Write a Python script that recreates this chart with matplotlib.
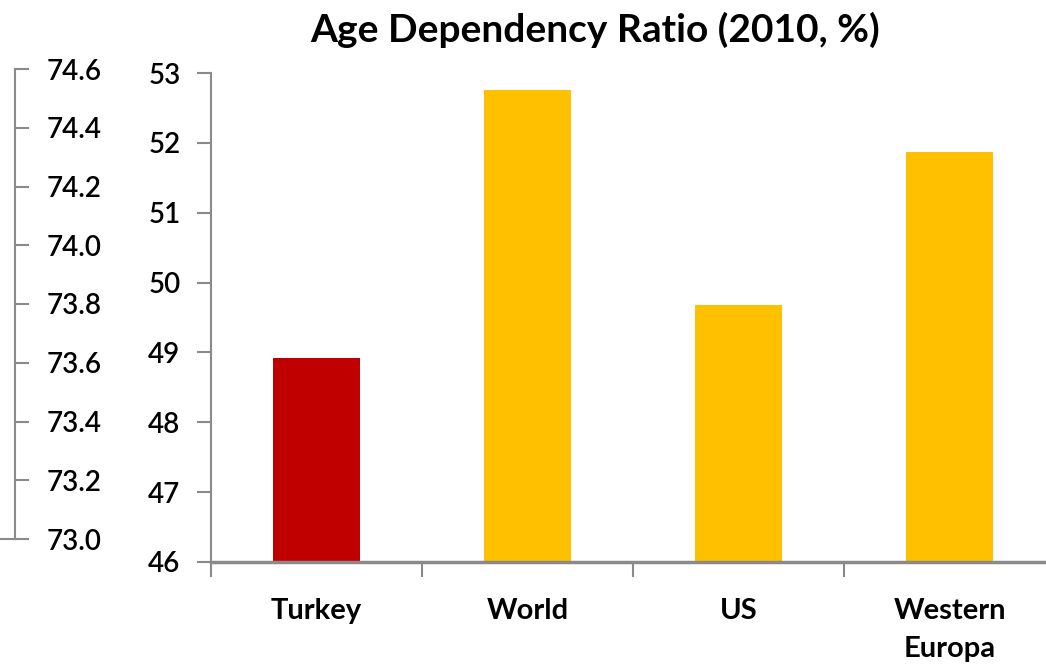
import matplotlib
matplotlib.use("Agg")
import matplotlib.pyplot as plt
import numpy as np

plt.rcParams["font.family"] = ["Lato", "DejaVu Sans"]

categories = ["Turkey", "World", "US", "Western\nEuropa"]
dependency_ratio = [48.92, 52.76, 49.68, 51.87]
bar_colors = ["#C00000", "#FFC000", "#FFC000", "#FFC000"]
outer_ticks = [73.0, 73.2, 73.4, 73.6, 73.8, 74.0, 74.2, 74.4, 74.6]
inner_ticks = [46, 47, 48, 49, 50, 51, 52, 53]

axis_gray = "#8a8a8a"
num_weight = "semibold"

W, H = 1046, 670
fig = plt.figure(figsize=(W / 100, H / 100), dpi=100)


def px_axes(left, top, right, bottom):
    return fig.add_axes([left / W, 1 - bottom / H, (right - left) / W, (bottom - top) / H])


# main bar axes (runs off the right edge of the figure)
ax = px_axes(211, 73, 1055, 562)
x = np.arange(len(categories))
ax.bar(x, dependency_ratio, width=0.41, color=bar_colors, zorder=2)
ax.set_xlim(-0.5, len(categories) - 0.5)
ax.set_ylim(46, 53)
ax.set_yticks(inner_ticks)
ax.set_yticklabels([str(t) for t in inner_ticks], fontsize=20, fontweight=num_weight)
ax.set_xticks(x)
ax.set_xticklabels(categories, fontsize=21, fontweight="bold", linespacing=1.55,
                   va="top")
ax.set_xticks(np.arange(-0.5, len(categories) + 0.5, 1), minor=True)
ax.tick_params(axis="x", which="major", length=0, pad=26)
ax.tick_params(axis="x", which="minor", length=11, width=1.5, color=axis_gray)
ax.tick_params(axis="y", length=10, width=1.5, color=axis_gray, pad=12)
for side in ["top", "right"]:
    ax.spines[side].set_visible(False)
for side in ["left", "bottom"]:
    ax.spines[side].set_color(axis_gray)
    ax.spines[side].set_linewidth(1.5)
ax.spines["bottom"].set_linewidth(2.5)

# secondary scale on the far left
ax2 = px_axes(0, 69, 15, 539)
ax2.set_xlim(0, 1)
ax2.set_ylim(73.0, 74.6)
ax2.set_xticks([])
ax2.yaxis.tick_right()
ax2.set_yticks(outer_ticks)
ax2.set_yticklabels([f"{t:.1f}" for t in outer_ticks], fontsize=20, fontweight=num_weight)
ax2.tick_params(axis="y", length=10, width=1.5, color=axis_gray, pad=13)
for side in ["top", "left"]:
    ax2.spines[side].set_visible(False)
for side in ["right", "bottom"]:
    ax2.spines[side].set_color(axis_gray)
    ax2.spines[side].set_linewidth(1.5)
ax2.patch.set_visible(False)

fig.text(595 / W, 1 - 30 / H, "Age Dependency Ratio (2010, %)", fontsize=28,
         fontweight="bold", ha="center", va="center")

fig.savefig("out.png", dpi=100)
